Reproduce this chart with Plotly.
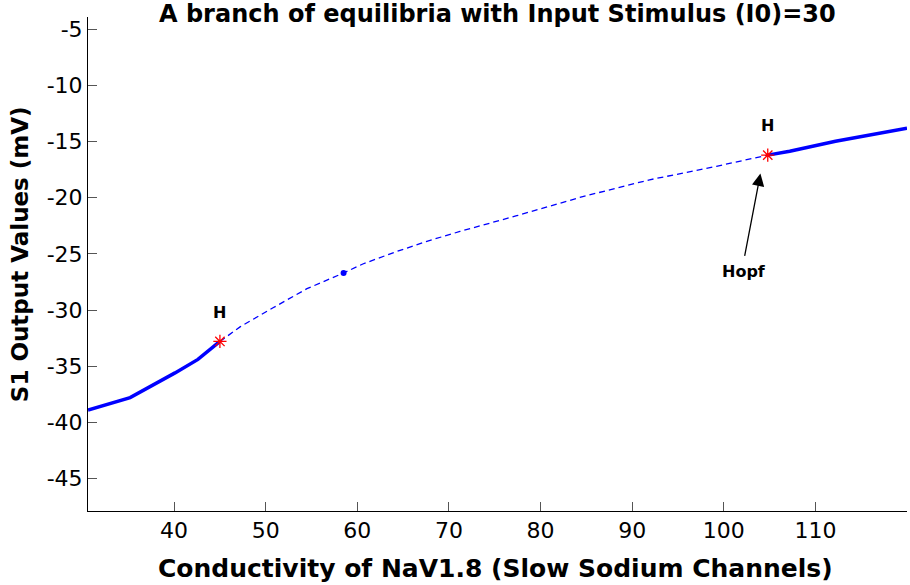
import plotly.graph_objects as go

# Data
stable_left_x = [30.6, 35.2, 40.1, 42.6, 45.0]
stable_left_y = [-38.9, -37.8, -35.6, -34.4, -32.8]
unstable_x = [45.0, 47.2, 50.8, 54.5, 58.5, 60.6, 63.9, 67.5, 71.2, 77.4, 84.6, 91.9, 99.2, 104.8]
unstable_y = [-32.8, -31.5, -29.8, -28.1, -26.7, -25.9, -24.9, -23.9, -23.0, -21.6, -19.9, -18.4, -17.2, -16.2]
stable_right_x = [104.8, 107.2, 112.2, 120.0]
stable_right_y = [-16.2, -15.85, -14.96, -13.8]
hopf_x = [45.0, 104.8]
hopf_y = [-32.8, -16.2]
special_x = [58.5]
special_y = [-26.7]
x_ticks = [40, 50, 60, 70, 80, 90, 100, 110]
x_tick_labels = ["40", "50", "60", "70", "80", "90", "100", "110"]
y_ticks = [-5, -10, -15, -20, -25, -30, -35, -40, -45]
y_tick_labels = ["-5", "-10", "-15", "-20", "-25", "-30", "-35", "-40", "-45"]

FONT = "DejaVu Sans, Liberation Sans, Arial, sans-serif"
BLUE = "#0000ff"

fig = go.Figure()
fig.add_trace(go.Scatter(x=stable_left_x, y=stable_left_y, mode="lines",
                         line=dict(color=BLUE, width=3.5), showlegend=False))
fig.add_trace(go.Scatter(x=unstable_x, y=unstable_y, mode="lines",
                         line=dict(color=BLUE, width=1.3, dash="6px,4px"), showlegend=False))
fig.add_trace(go.Scatter(x=stable_right_x, y=stable_right_y, mode="lines",
                         line=dict(color=BLUE, width=3.5), showlegend=False))
fig.add_trace(go.Scatter(x=special_x, y=special_y, mode="markers",
                         marker=dict(color=BLUE, size=6, symbol="circle"), showlegend=False))
fig.add_trace(go.Scatter(x=hopf_x, y=hopf_y, mode="markers",
                         marker=dict(color="red", size=11, symbol="asterisk-open",
                                     line=dict(color="red", width=1.3)), showlegend=False))

for hx, hy in zip(hopf_x, hopf_y):
    fig.add_annotation(x=hx, y=hy + 2.6, text="<b>H</b>", showarrow=False,
                       font=dict(family=FONT, size=16, color="black"))

fig.add_annotation(x=104.0, y=-17.85, ax=102.25, ay=-25.3, axref="x", ayref="y",
                   text="", showarrow=True, arrowhead=2, arrowsize=1.9, arrowwidth=1.3,
                   arrowcolor="black")
fig.add_annotation(x=102.25, y=-26.6, text="<b>Hopf</b>", showarrow=False,
                   font=dict(family=FONT, size=16, color="black"))

# Titles as paper-anchored annotations
fig.add_annotation(xref="paper", yref="paper", x=0.500, y=1.006, xanchor="center",
                   yanchor="middle", showarrow=False,
                   text="<b>A branch of equilibria with Input Stimulus (I0)=30</b>",
                   font=dict(family=FONT, size=24, color="black"))
fig.add_annotation(xref="paper", yref="paper", x=0.497, y=-0.116, xanchor="center",
                   yanchor="middle", showarrow=False,
                   text="<b>Conductivity of NaV1.8 (Slow Sodium Channels)</b>",
                   font=dict(family=FONT, size=25, color="black"))
fig.add_annotation(xref="paper", yref="paper", x=-0.083, y=0.52, xanchor="center",
                   yanchor="middle", showarrow=False, textangle=-90,
                   text="<b>S1 Output Values (mV)</b>",
                   font=dict(family=FONT, size=23, color="black"))

fig.update_layout(
    width=910, height=585,
    margin=dict(l=88, r=3, t=17, b=74),
    paper_bgcolor="white", plot_bgcolor="white",
    font=dict(family=FONT, color="black"),
)
fig.update_xaxes(range=[30.6, 120.0], tickvals=x_ticks, ticktext=x_tick_labels,
                 ticks="inside", ticklen=9, automargin=False,
                 tickcolor="#555", showline=True, linecolor="black", linewidth=1,
                 showgrid=False, zeroline=False, tickfont=dict(size=22, family=FONT))
fig.update_yaxes(range=[-47.9, -3.9], tickvals=y_ticks, ticktext=y_tick_labels,
                 ticks="inside", ticklen=9, automargin=False,
                 tickcolor="#555", showline=True, linecolor="black", linewidth=1,
                 showgrid=False, zeroline=False, tickfont=dict(size=22, family=FONT))

fig.write_html("out.html", config={"displayModeBar": False},
               post_script="document.body.style.margin='0';")
